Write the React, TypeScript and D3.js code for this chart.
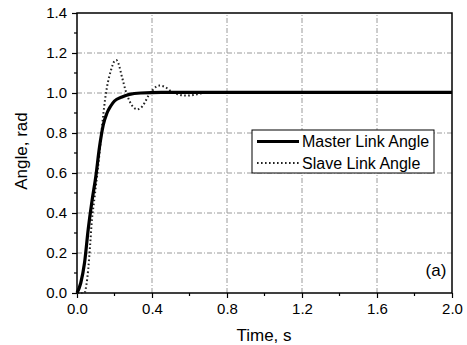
import { useRef, useEffect } from 'react';
import * as d3 from 'd3';

interface Pt {
  t: number;
  v: number;
}

// Master link angle response (rad)
const masterT = [0, 0.02, 0.04, 0.06, 0.08, 0.10, 0.12, 0.13, 0.14, 0.16, 0.18, 0.20, 0.24, 0.28, 0.34, 0.45, 0.7, 1.0, 1.5, 2.0];
const masterV = [0, 0.05, 0.15, 0.32, 0.46, 0.58, 0.73, 0.79, 0.84, 0.90, 0.935, 0.96, 0.98, 0.993, 1.0, 1.003, 1.003, 1.003, 1.003, 1.003];

// Slave link angle response (rad)
const slaveT = [0, 0.04, 0.05, 0.06, 0.07, 0.08, 0.09, 0.10, 0.11, 0.12, 0.13, 0.14, 0.15, 0.16, 0.18, 0.20, 0.21, 0.22, 0.24, 0.26, 0.28, 0.30, 0.32, 0.34, 0.36, 0.38, 0.40, 0.42, 0.44, 0.47, 0.50, 0.54, 0.58, 0.62, 0.66, 0.72, 0.80, 0.90, 1.2, 1.6, 2.0];
const slaveV = [0, 0, 0.04, 0.12, 0.24, 0.37, 0.45, 0.53, 0.61, 0.70, 0.80, 0.89, 0.97, 1.03, 1.11, 1.16, 1.165, 1.15, 1.08, 1.01, 0.96, 0.93, 0.918, 0.925, 0.95, 0.985, 1.01, 1.03, 1.037, 1.03, 1.01, 0.993, 0.987, 0.99, 0.998, 1.004, 1.003, 1.0, 1.0, 1.0, 1.0];

const xTicks = [0, 0.4, 0.8, 1.2, 1.6, 2.0];
const yTicks = [0, 0.2, 0.4, 0.6, 0.8, 1.0, 1.2, 1.4];
const legendLabels = ['Master Link Angle', 'Slave Link Angle'];

const zip = (ts: number[], vs: number[]): Pt[] => ts.map((t, i) => ({ t, v: vs[i] }));

export default function App() {
  const svgRef = useRef<SVGSVGElement>(null);
  const width = 467;
  const height = 345;

  useEffect(() => {
    document.body.style.margin = '0';
    const svg = d3.select(svgRef.current);
    svg.selectAll('*').remove();

    const font = '"Liberation Sans", Arial, sans-serif';
    const x = d3.scaleLinear().domain([0, 2]).range([77, 452]);
    const y = d3.scaleLinear().domain([0, 1.4]).range([293, 13]);

    svg.append('rect').attr('width', width).attr('height', height).attr('fill', '#fff');

    // Grid
    const grid = svg.append('g').attr('stroke', '#9a9a9a').attr('stroke-width', 1).attr('stroke-dasharray', '5,2,1,2');
    xTicks.slice(1, -1).forEach(t => {
      grid.append('line').attr('x1', x(t)).attr('x2', x(t)).attr('y1', y(0)).attr('y2', y(1.4));
    });
    yTicks.slice(1, -1).forEach(v => {
      grid.append('line').attr('x1', x(0)).attr('x2', x(2)).attr('y1', y(v)).attr('y2', y(v));
    });

    // Axes
    const xAxis = d3.axisBottom(x).tickValues(xTicks).tickSize(5).tickPadding(5).tickFormat(d3.format('.1f') as any);
    const yAxis = d3.axisLeft(y).tickValues(yTicks).tickSize(5).tickPadding(5).tickFormat(d3.format('.1f') as any);
    const gx = svg.append('g').attr('transform', `translate(0,${y(0)})`).call(xAxis);
    const gy = svg.append('g').attr('transform', `translate(${x(0)},0)`).call(yAxis);
    [gx, gy].forEach(g => {
      g.select('.domain').remove();
      g.selectAll('line').attr('stroke', '#000').attr('stroke-width', 1.2);
      g.selectAll('text').attr('font-family', font).attr('font-size', 15).attr('fill', '#000');
    });
    gx.selectAll('text').attr('dy', '0.71em');

    // Minor ticks
    const minor = svg.append('g').attr('stroke', '#000').attr('stroke-width', 1.2);
    d3.range(0.2, 2, 0.4).forEach(t => {
      minor.append('line').attr('x1', x(t)).attr('x2', x(t)).attr('y1', y(0)).attr('y2', y(0) + 3);
    });
    d3.range(0.1, 1.4, 0.2).forEach(v => {
      minor.append('line').attr('x1', x(0)).attr('x2', x(0) - 3).attr('y1', y(v)).attr('y2', y(v));
    });

    // Frame
    svg.append('rect')
      .attr('x', x(0)).attr('y', y(1.4))
      .attr('width', x(2) - x(0)).attr('height', y(0) - y(1.4))
      .attr('fill', 'none').attr('stroke', '#000').attr('stroke-width', 1.5);

    const line = d3.line<Pt>().x(d => x(d.t)).y(d => y(d.v)).curve(d3.curveMonotoneX);

    svg.append('path')
      .datum(zip(slaveT, slaveV))
      .attr('fill', 'none')
      .attr('stroke', '#222')
      .attr('stroke-width', 2)
      .attr('stroke-dasharray', '1.6,2.4')
      .attr('d', line);

    svg.append('path')
      .datum(zip(masterT, masterV))
      .attr('fill', 'none')
      .attr('stroke', '#000')
      .attr('stroke-width', 3.2)
      .attr('d', line);

    // Legend
    const lg = svg.append('g');
    lg.append('rect').attr('x', 252).attr('y', 130).attr('width', 182).attr('height', 43)
      .attr('fill', '#fff').attr('stroke', '#000').attr('stroke-width', 1);
    lg.append('line').attr('x1', 257).attr('x2', 299).attr('y1', 141.5).attr('y2', 141.5)
      .attr('stroke', '#000').attr('stroke-width', 3.2);
    lg.append('line').attr('x1', 257).attr('x2', 299).attr('y1', 163).attr('y2', 163)
      .attr('stroke', '#222').attr('stroke-width', 2).attr('stroke-dasharray', '1.6,2.4');
    legendLabels.forEach((label, i) => {
      lg.append('text').attr('x', 302).attr('y', 147 + i * 22)
        .attr('font-family', font).attr('font-size', 16).attr('fill', '#000')
        .text(label);
    });

    // Panel label
    svg.append('text').attr('x', 436).attr('y', 276).attr('text-anchor', 'middle')
      .attr('font-family', font).attr('font-size', 17).attr('fill', '#000').text('(a)');

    // Axis titles
    svg.append('text').attr('x', 264).attr('y', 341).attr('text-anchor', 'middle')
      .attr('font-family', font).attr('font-size', 17).attr('fill', '#000').text('Time, s');
    svg.append('text').attr('transform', 'translate(27,151) rotate(-90)').attr('text-anchor', 'middle')
      .attr('font-family', font).attr('font-size', 17).attr('fill', '#000').text('Angle, rad');
  }, []);

  return <svg ref={svgRef} width={width} height={height} style={{ display: 'block' }} />;
}
